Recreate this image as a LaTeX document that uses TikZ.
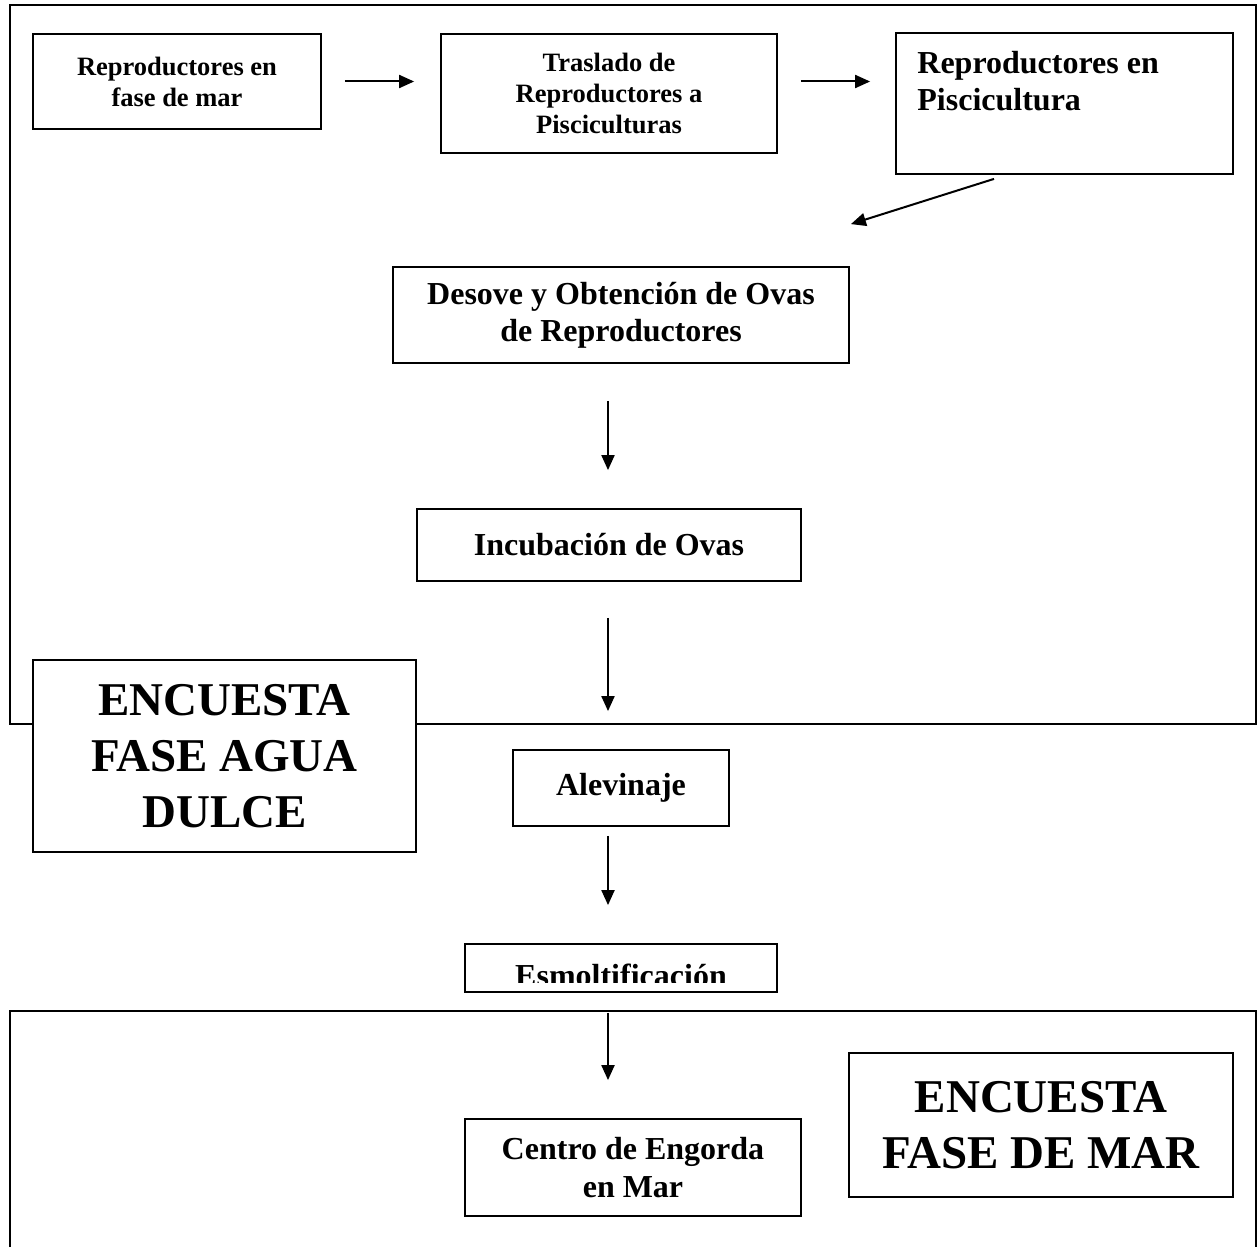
\documentclass[tikz,border=0pt]{standalone}
\usepackage{fontspec}
\setmainfont{Liberation Serif}
\usetikzlibrary{arrows.meta,calc}

\begin{document}
\begin{tikzpicture}[x=0.5pt,y=-0.5pt,
  box/.style={draw, line width=0.9pt, fill=white, inner sep=0pt, align=center, font=\bfseries},
  small/.style={font=\fontsize{13.25}{15.5}\selectfont\bfseries},
  big/.style={font=\fontsize{16}{18.6}\selectfont\bfseries},
  huge/.style={font=\fontsize{23.5}{28}\selectfont\bfseries},
  frame/.style={line width=1.4pt},
  arr/.style={line width=1pt, -{Triangle[length=7.5pt,width=6.5pt]}}]

  \useasboundingbox (0,0) rectangle (1257,1247);

  % fases
  \draw[frame] (10,5) rectangle (1256,724);

  \draw[frame] (10,1247) |- (1256,1011) -- (1256,1247);

  \coordinate (axis) at (608,0);

  % cajas
  \node[box, small, minimum width=144pt, minimum height=47.5pt] (rmar) at (177,81.5) {Reproductores en\\fase de mar};

  \node[box, small, minimum width=168pt, minimum height=59.5pt] (trasl) at (609,93.5) {Traslado de\\Reproductores a\\Pisciculturas};

  \node[box, minimum width=168.5pt, minimum height=70.5pt] (rpisc) at (1064.5,103.5) {};
  \node[big, anchor=north west, align=left, inner sep=0pt] (rpisctxt) at (917,51) {Reproductores en\\Piscicultura};

  \node[box, big, minimum width=228pt, minimum height=48pt] (desove) at (621,315) {Desove y Obtención de Ovas\\de Reproductores};

  \node[box, big, minimum width=192pt, minimum height=36pt] (incub) at (609,545) {Incubación de Ovas};

  \node[box, huge, minimum width=191.5pt, minimum height=96pt] (agua) at (224.5,756) {ENCUESTA\\FASE AGUA\\DULCE};

  \node[box, big, minimum width=108pt, minimum height=38pt] (alev) at (621,788) {\raisebox{2pt}{Alevinaje}};

  \begin{scope}
    \clip (465,944) rectangle (777,982);
    \node[big, anchor=base, inner sep=0pt] (esmolttxt) at (621,986) {Esmoltificación};
  \end{scope}
  \node[box, minimum width=156pt, minimum height=24pt, fill=none] (esmolt) at (621,968) {};

  \node[box, big, minimum width=168pt, minimum height=48.5pt] (engorda) at (633,1167.5) {Centro de Engorda\\en Mar};

  \node[box, huge, minimum width=192pt, minimum height=72pt] (mar) at (1041,1125) {ENCUESTA\\FASE DE MAR};

  % flechas
  \draw[arr, shorten <=11.5pt, shorten >=13pt] (rmar.east) -- (rmar.east -| trasl.west);

  \draw[arr, shorten <=11.5pt, shorten >=12.5pt] (trasl.east |- rmar.east) -- (rpisc.west |- rmar.east);

  \draw[arr] ($(rpisc.south)+(-70.5,4)$) -- ($(desove.north east)+(1,-42)$);

  \draw[arr, shorten <=18.5pt, shorten >=19pt] (desove.south -| axis) -- (incub.north -| axis);

  \draw[arr, shorten <=18pt, shorten >=19pt] (incub.south -| axis) -- (alev.north -| axis);

  \draw[arr, shorten <=4.5pt, shorten >=19pt] (alev.south -| axis) -- (esmolt.north -| axis);

  \draw[arr, shorten <=10pt, shorten >=19pt] (esmolt.south -| axis) -- (engorda.north -| axis);

\end{tikzpicture}
\end{document}
